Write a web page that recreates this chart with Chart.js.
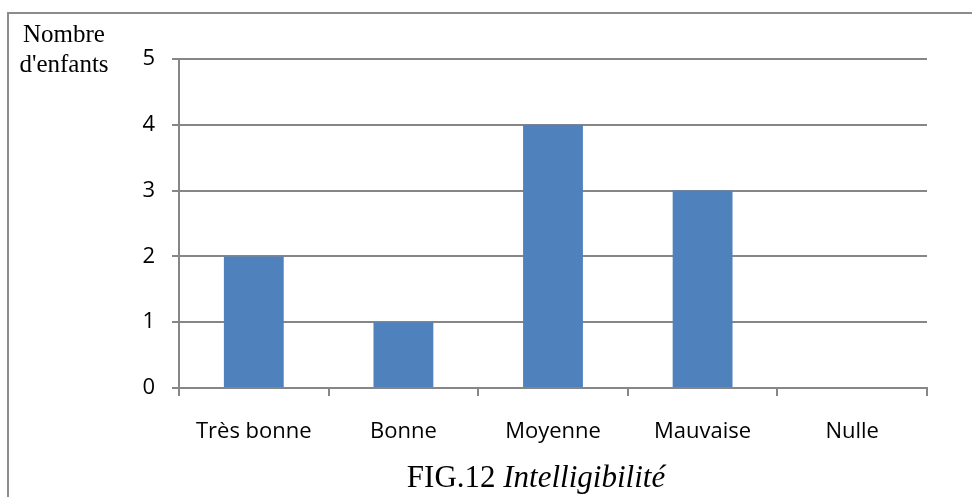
<!DOCTYPE html>
<html>
<head>
<meta charset="utf-8">
<script src="https://cdn.jsdelivr.net/npm/chart.js@4"></script>
<style>
    body { margin: 0; background: #fff; }
    canvas { display: block; }
</style>
</head>
<body>
<canvas id="barChart" width="972" height="497"></canvas>
<script>
const categories = ["Très bonne", "Bonne", "Moyenne", "Mauvaise", "Nulle"];
const values = [2, 1, 4, 3, 0];
const yTicks = [0, 1, 2, 3, 4, 5];
const yTitle = ["Nombre", "d'enfants"];
const figLabel = "FIG.12 ";
const figTitle = "Intelligibilité";

const gridColor = "#868686";

// frame + axis title + caption, drawn on the canvas
const decorPlugin = {
    id: "decor",
    afterDraw(chart) {
        const c = chart.ctx;
        c.save();
        c.strokeStyle = "#8c8c8c";
        c.lineWidth = 2;
        c.beginPath();
        c.moveTo(8, chart.height);
        c.lineTo(8, 13);
        c.lineTo(chart.width, 13);
        c.stroke();

        c.fillStyle = "#000";
        c.textAlign = "center";
        c.textBaseline = "alphabetic";
        c.font = "25px 'Liberation Serif'";
        c.fillText(yTitle[0], 64, 42);
        c.fillText(yTitle[1], 64, 72);

        c.textAlign = "left";
        c.font = "31px 'Liberation Serif'";
        const w1 = c.measureText(figLabel).width;
        c.font = "italic 31px 'Liberation Serif'";
        const w2 = c.measureText(figTitle).width;
        const x0 = 536 - (w1 + w2) / 2;
        c.font = "31px 'Liberation Serif'";
        c.fillText(figLabel, x0, 487);
        c.font = "italic 31px 'Liberation Serif'";
        c.fillText(figTitle, x0 + w1, 487);
        c.restore();
    }
};

const ctxBar = document.getElementById("barChart").getContext("2d");
const barChart = new Chart(ctxBar, {
    type: "bar",
    data: {
        labels: categories,
        datasets: [{ data: values, backgroundColor: "#4f81bd", barPercentage: 0.4, categoryPercentage: 1 }]
    },
    options: {
        responsive: false,
        animation: false,
        layout: { padding: { top: 59, right: 45, bottom: 0, left: 0 } },
        plugins: { legend: { display: false }, tooltip: { enabled: false } },
        scales: {
            x: {
                afterFit: s => { s.height = 109; },
                border: { color: gridColor, width: 2 },
                grid: { offset: true, drawOnChartArea: false, color: gridColor, lineWidth: 2, tickLength: 8 },
                ticks: { color: "#000", padding: 23, font: { family: "'Open Sans'", size: 22 } }
            },
            y: {
                min: 0,
                max: 5,
                afterFit: s => { s.width = 179; },
                afterBuildTicks: s => { s.ticks = yTicks.map(v => ({ value: v })); },
                border: { color: gridColor, width: 2 },
                grid: { color: gridColor, lineWidth: 2, tickLength: 7 },
                ticks: { color: "#000", padding: 17, font: { family: "'Open Sans'", size: 22 } }
            }
        }
    },
    plugins: [decorPlugin]
});
</script>
</body>
</html>
